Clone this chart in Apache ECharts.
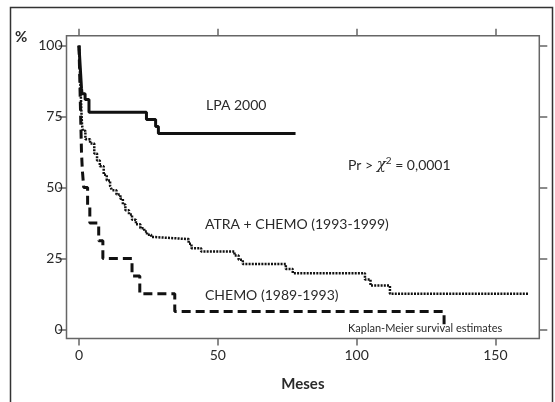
<!DOCTYPE html>
<html><head><meta charset="utf-8">
<script src="https://cdn.jsdelivr.net/npm/echarts@6/dist/echarts.min.js"></script>
<style>html,body{margin:0;padding:0;background:#fff}#c{width:555px;height:402px}</style>
</head><body><div id="c"></div>
<script>
// Tick labels
const xTicks = [0, 50, 100, 150];
const yTicks = [0, 25, 50, 75, 100];

// LPA 2000 (solid)
const lpaT = [0, 0.15, 0.3, 0.45, 0.6, 0.75, 0.9, 1.1, 2.2, 3.6, 24.3, 27.6, 28.6, 78];
const lpaV = [100, 97.5, 95, 92.5, 90, 87.5, 85, 83, 81, 76.5, 74, 71.5, 69, 69];

// ATRA + CHEMO (1993-1999) (dotted)
const atraT = [0,0.15,0.3,0.45,0.6,0.75,0.9,1.1,1.4,2.3,4,5.5,6.5,7.5,8.9,10,11.2,11.9,13.5,14.9,15.8,16.7,18,19.1,20.5,22.1,23.5,24.5,26,27.5,39.5,40.5,44,56,57.5,59,74.5,77,103,105,112,162];
const atraV = [100,96,92,88,84,80,76,72,70,67,65.5,62,59.5,57.5,54.5,52.5,50.5,49,47.5,46,44,42,40.5,38.6,37,35.6,34.5,33.3,32.5,31.8,30.2,28.6,27.4,26,24.5,23,21.3,19.8,17.6,15.4,12.5,12.5];

// CHEMO (1989-1993) (dashed)
const chemoT = [0,0.15,0.3,0.45,0.6,0.75,0.9,1.2,1.7,3.1,3.9,7.1,8.6,19.1,21.9,34.5,131.5];
const chemoV = [100,93.75,87.5,81.25,75,68.75,62.5,56.25,50,43.75,37.5,31.25,25,18.75,12.5,6.25,0];

const zip = (t, v) => t.map((x, i) => [x, v[i]]);
const FONT = 'Lato';
const axisCol = '#666';
const txtCol = '#2a2a2a';

const chart = echarts.init(document.getElementById('c'), null, {renderer: 'canvas'});
const xBase = {
  type: 'value', min: -4.5, max: 165.8,
  splitLine: {show: false}, axisLine: {show: false, onZero: false},
  axisTick: {show: true, inside: false, length: 7, lineStyle: {color: axisCol, width: 1.5}, customValues: xTicks},
};
const yBase = {
  type: 'value', min: -3.24, max: 103.5,
  splitLine: {show: false}, axisLine: {show: false, onZero: false},
  axisTick: {show: true, inside: false, length: 8, lineStyle: {color: axisCol, width: 1.5}, customValues: yTicks},
};
chart.setOption({
  animation: false,
  backgroundColor: '#fff',
  grid: {left: 66.5, right: 15.7, top: 35.7, bottom: 63.5, show: true, borderColor: axisCol, borderWidth: 1.5, containLabel: false},
  xAxis: [
    Object.assign({}, xBase, {position: 'bottom',
      axisLabel: {customValues: xTicks, color: txtCol, fontFamily: FONT, fontSize: 14, margin: 10},
      name: 'Meses', nameLocation: 'middle', nameGap: 38,
      nameTextStyle: {color: txtCol, fontFamily: FONT, fontSize: 15, fontWeight: 'bold'}}),
    Object.assign({}, xBase, {position: 'top', axisLabel: {show: false}})
  ],
  yAxis: [
    Object.assign({}, yBase, {position: 'left',
      axisLabel: {customValues: yTicks, color: txtCol, fontFamily: FONT, fontSize: 14, margin: 4}}),
    Object.assign({}, yBase, {position: 'right', axisLabel: {show: false}})
  ],
  series: [
    {type: 'line', name: 'LPA 2000', step: 'end', data: zip(lpaT, lpaV), symbol: 'none',
     lineStyle: {color: '#111', width: 3, type: 'solid'}},
    {type: 'line', name: 'ATRA + CHEMO (1993-1999)', step: 'end', data: zip(atraT, atraV), symbol: 'none',
     lineStyle: {color: '#111', width: 2.5, type: [2, 1.2]}},
    {type: 'line', name: 'CHEMO (1989-1993)', step: 'end', data: zip(chemoT, chemoV), symbol: 'none',
     lineStyle: {color: '#111', width: 3, type: [9, 5]}}
  ],
  graphic: [
    {type: 'rect', shape: {x: 10.5, y: 7.5, width: 542, height: 420}, style: {fill: 'none', stroke: '#333', lineWidth: 1.5}, silent: true},
    {type: 'text', x: 15, y: 37, style: {text: '%', fill: txtCol, font: 'bold 15px Lato', textVerticalAlign: 'middle'}},
    {type: 'text', x: 206, y: 105, style: {text: 'LPA 2000', fill: txtCol, font: '14px Lato', textVerticalAlign: 'middle'}},
    {type: 'text', x: 348, y: 165, style: {text: 'Pr > {g|χ}{sup|2} = 0,0001', fill: txtCol, font: '14px Lato', textVerticalAlign: 'middle',
      rich: {g: {fontFamily: 'DejaVu Serif', fontStyle: 'italic', fontSize: 15, fill: txtCol}, sup: {fontSize: 10, fontFamily: FONT, fill: txtCol, padding: [0,0,8,0]}}}},
    {type: 'text', x: 205, y: 224, style: {text: 'ATRA + CHEMO (1993-1999)', fill: txtCol, font: '14px Lato', textVerticalAlign: 'middle'}},
    {type: 'text', x: 205, y: 295, style: {text: 'CHEMO (1989-1993)', fill: txtCol, font: '14px Lato', textVerticalAlign: 'middle'}},
    {type: 'text', x: 348, y: 328, style: {text: 'Kaplan-Meier survival estimates', fill: txtCol, font: '11px Lato', textVerticalAlign: 'middle'}}
  ]
});
</script></body></html>
